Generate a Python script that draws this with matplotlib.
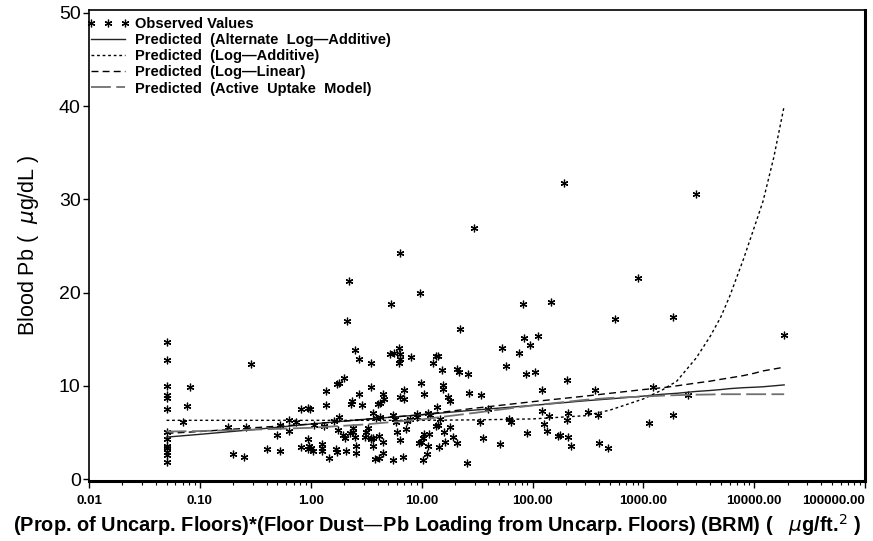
import matplotlib
matplotlib.use("Agg")
import matplotlib.pyplot as plt
import numpy as np

plt.rcParams['font.family'] = ['Liberation Sans', 'DejaVu Sans']
plt.rcParams['mathtext.fontset'] = 'dejavusans'

obs_x = [0.05, 0.05, 0.05, 0.05, 0.05, 0.05, 0.05, 0.05, 0.05, 0.05, 0.05, 0.05, 0.05,
         0.081, 0.076, 0.071, 0.29, 0.18, 0.26, 0.20, 0.25, 0.40, 0.50, 0.53, 0.53, 0.63, 0.63,
         0.73, 0.81, 0.95, 0.95, 0.82, 0.96, 1.04, 1.08, 0.98, 0.94, 1.0,
         5.3, 2.1, 82, 146, 22, 2.5, 2.7, 3.5, 6.2, 5.15, 5.6, 6.35, 6.35, 6.3, 8.0, 13.4, 14.0,
         12.7, 15.2, 20.8, 21.8, 26, 53, 58, 75, 83, 95, 112, 87, 105, 204, 121, 368, 1.37,
         1.74, 1.78, 1.98, 3.5, 9.9, 15.5, 15.6, 27, 34, 2.7, 4.5, 4.6, 10.5, 7.0, 6.35, 6.95,
         17.4, 18, 2.37, 2.29, 4.05, 4.25, 2.9, 1.36, 13.8, 40, 121, 211, 314, 141, 3.65, 1.81,
         9.0, 9.1, 11.5, 11.9, 3.86, 4.19, 5.5, 5.7, 14.6, 14.1, 13.6, 33.6, 61, 64, 204, 127,
         136, 89, 168, 177, 211, 223, 397, 51, 36, 25.5, 17.9, 15.9, 16.2, 19, 20.7, 14.4, 11.5,
         11.1, 10.3, 11.7, 10.5, 10.3, 9.4, 9.9, 7.15, 6.0, 6.35, 6.8, 5.5, 4.5, 3.65, 3.67,
         3.52, 3.47, 4.13, 4.5, 3.83, 4.1, 3.28, 3.18, 3.08, 2.54, 2.54, 2.4, 2.4, 2.05, 1.95,
         1.77, 2.07, 1.72, 1.68, 1.45, 1.27, 1.25, 1.25, 1.63, 1.31, 5.9, 7.8, 7.3, 2.49, 2.27,
         2974, 896, 551, 1866, 18580, 1233, 2517, 389, 1866, 1132, 476, 194, 29.9, 6.35, 2.2, 9.7]
obs_y = [14.7, 12.8, 10.0, 9.0, 8.7, 7.5, 5.0, 4.3, 3.6, 3.3, 2.9, 2.6, 1.8,
         9.9, 7.8, 6.1, 12.3, 5.6, 5.6, 2.7, 2.4, 3.2, 4.7, 5.8, 3.0, 6.3, 5.2,
         6.1, 7.5, 7.6, 4.3, 3.4, 3.5, 3.0, 5.8, 7.5, 3.2, 3.3,
         18.8, 17.0, 18.8, 19.0, 16.1, 13.8, 12.9, 12.5, 14.1, 13.4, 13.5, 13.4, 12.9, 12.4, 13.1, 13.2, 13.2,
         12.4, 11.7, 11.8, 11.5, 11.3, 14.1, 12.1, 13.5, 15.1, 14.4, 15.3, 11.3, 11.5, 10.6, 9.6, 9.6, 9.4,
         10.2, 10.3, 10.8, 9.9, 10.3, 10.1, 9.7, 9.2, 9.0, 9.1, 9.1, 8.6, 9.1, 9.5, 8.8, 8.55,
         8.8, 8.4, 8.4, 8.05, 8.1, 8.2, 7.9, 7.9, 7.7, 7.5, 7.3, 7.1, 7.2, 6.8, 7.1, 6.7,
         7.0, 6.7, 7.1, 6.9, 6.6, 6.7, 6.9, 6.4, 6.4, 5.8, 5.7, 6.15, 6.4, 6.15, 6.3, 5.9,
         5.15, 4.9, 4.6, 4.7, 4.5, 3.5, 3.9, 3.8, 4.4, 1.7, 5.6, 5.0, 4.0, 4.5, 3.9, 3.4, 3.5,
         2.65, 2.0, 4.8, 4.8, 4.4, 3.9, 3.95, 5.4, 5.0, 4.2, 2.4, 2.1, 2.8, 3.5, 4.4,
         4.3, 4.45, 4.65, 4.0, 2.2, 2.3, 5.45, 5.0, 4.55, 3.5, 2.8, 5.45, 5.0, 4.45, 4.7,
         5.25, 3.0, 2.9, 3.2, 2.3, 3.8, 3.35, 3.05, 6.25, 5.7, 6.15, 6.4, 6.26, 4.47, 4.9,
         30.6, 21.6, 17.2, 17.35, 15.4, 9.9, 9.0, 6.9, 6.9, 6.0, 3.3, 31.7, 26.9, 24.2, 21.2, 20.0]

# predicted curves, read at these loadings
curve_x = [0.05, 0.1, 0.3, 1, 3, 10, 30, 100, 300, 500, 1000, 1500, 2000, 3000, 4000,
           5000, 6000, 8000, 10000, 12000, 15000, 18600]
alt_log_add = [4.5, 4.8, 5.3, 5.9, 6.4, 6.9, 7.4, 7.9, 8.4, 8.6, 8.9, 9.1, 9.2, 9.4, 9.5,
               9.6, 9.7, 9.8, 9.85, 9.9, 10.0, 10.1]
log_add = [6.3, 6.3, 6.3, 6.3, 6.3, 6.3, 6.35, 6.45, 6.8, 7.4, 8.6, 9.6, 10.5, 13.0, 15.3,
           17.4, 19.6, 23.6, 27.0, 29.8, 34.5, 40.0]
log_lin = [4.9, 5.1, 5.5, 5.9, 6.4, 6.9, 7.6, 8.3, 8.9, 9.2, 9.6, 9.8, 10.0, 10.3, 10.5,
           10.7, 10.85, 11.1, 11.35, 11.6, 11.8, 12.0]
active_uptake = [5.1, 5.15, 5.3, 5.5, 5.85, 6.4, 7.1, 7.9, 8.5, 8.7, 8.85, 8.95, 9.0, 9.05, 9.07,
                 9.1, 9.1, 9.1, 9.1, 9.1, 9.1, 9.1]

xticks = [0.01, 0.1, 1, 10, 100, 1000, 10000, 100000]
xtick_labels = ['0.01', '0.10', '1.00', '10.00', '100.00', '1000.00', '10000.00', '100000.00']
yticks = [0, 10, 20, 30, 40, 50]

fig = plt.figure(figsize=(8.73, 5.41), dpi=100)
ax = fig.add_axes([0.102, 0.111, 0.889, 0.8705])

ax.plot(obs_x, obs_y, linestyle='none', marker=(6, 2, 0), markersize=5.5,
        markeredgewidth=0.9, color='black', label='Observed Values')
ax.plot(curve_x, alt_log_add, color='#222222', lw=1.0, label='Predicted  (Alternate  Log\u2014Additive)')
ax.plot(curve_x, log_add, color='black', lw=1.0, dashes=(2, 2), label='Predicted  (Log\u2014Additive)')
ax.plot(curve_x, log_lin, color='black', lw=1.0, dashes=(5, 3), label='Predicted  (Log\u2014Linear)')
ax.plot(curve_x, active_uptake, color='#707070', lw=1.3, dashes=(11, 3), label='Predicted  (Active  Uptake  Model)')

ax.set_xscale('log')
ax.set_xlim(0.01, 100000)
ax.set_ylim(-0.2, 50.3)
ax.set_xticks(xticks)
ax.set_xticklabels(xtick_labels, fontsize=9.5, fontweight='bold')
ax.get_xticklabels()[-1].set_ha('right')
ax.set_yticks(yticks)
ax.set_yticklabels([str(v) for v in yticks], fontsize=14)
ax.tick_params(axis='x', which='major', direction='out', length=5, width=1, pad=5)
ax.tick_params(axis='x', which='minor', direction='out', length=3, width=0.8)
ax.tick_params(axis='y', direction='out', length=4, width=1, pad=2)

for side in ['top', 'left']:
    ax.spines[side].set_linewidth(1.2)
for side in ['right', 'bottom']:
    ax.spines[side].set_linewidth(2.2)

ax.set_ylabel('Blood Pb (  $\\mu$g/dL )', fontsize=15.5, labelpad=13)
# x label is centred on the figure, not the axes
fig.text(0.5, 0.029, '(Prop. of Uncarp. Floors)*(Floor Dust\u2014Pb Loading from Uncarp. Floors) (BRM) (   $\\mu$g/ft.$^2$ )',
         fontsize=14.4, fontweight='bold', ha='center', va='center')

leg = ax.legend(loc='upper left', frameon=False, numpoints=3, handlelength=2.9,
                handletextpad=0.35, labelspacing=0.15, borderaxespad=0.0,
                bbox_to_anchor=(-0.01, 0.998), prop={'size': 10.5, 'weight': 'bold'})

fig.savefig('out.png', dpi=100)
